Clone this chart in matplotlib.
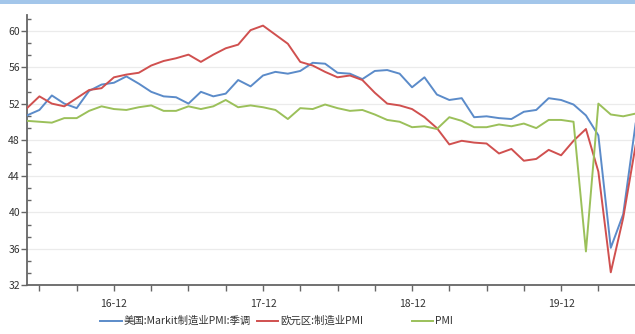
import matplotlib
matplotlib.use("Agg")
import matplotlib.pyplot as plt
from matplotlib.lines import Line2D
from matplotlib.patches import Rectangle
from matplotlib.ticker import FixedLocator, MultipleLocator
import numpy as np
import pandas as pd

plt.rcParams['font.family'] = ['Noto Sans CJK SC', 'DejaVu Sans']

# Monthly observations, 2016-05 .. 2020-06
months = pd.date_range("2016-05-01", periods=50, freq="MS")

us_markit_pmi = [50.7, 51.3, 52.9, 52.0, 51.5, 53.4, 54.1, 54.3, 55.0, 54.2,
                 53.3, 52.8, 52.7, 52.0, 53.3, 52.8, 53.1, 54.6, 53.9, 55.1,
                 55.5, 55.3, 55.6, 56.5, 56.4, 55.4, 55.3, 54.7, 55.6, 55.7,
                 55.3, 53.8, 54.9, 53.0, 52.4, 52.6, 50.5, 50.6, 50.4, 50.3,
                 51.1, 51.3, 52.6, 52.4, 51.9, 50.7, 48.5, 36.1, 39.8, 49.8]

euro_pmi = [51.5, 52.8, 52.0, 51.7, 52.6, 53.5, 53.7, 54.9, 55.2, 55.4,
            56.2, 56.7, 57.0, 57.4, 56.6, 57.4, 58.1, 58.5, 60.1, 60.6,
            59.6, 58.6, 56.6, 56.2, 55.5, 54.9, 55.1, 54.6, 53.2, 52.0,
            51.8, 51.4, 50.5, 49.3, 47.5, 47.9, 47.7, 47.6, 46.5, 47.0,
            45.7, 45.9, 46.9, 46.3, 47.9, 49.2, 44.5, 33.4, 39.4, 47.4]

china_pmi = [50.1, 50.0, 49.9, 50.4, 50.4, 51.2, 51.7, 51.4, 51.3, 51.6,
             51.8, 51.2, 51.2, 51.7, 51.4, 51.7, 52.4, 51.6, 51.8, 51.6,
             51.3, 50.3, 51.5, 51.4, 51.9, 51.5, 51.2, 51.3, 50.8, 50.2,
             50.0, 49.4, 49.5, 49.2, 50.5, 50.1, 49.4, 49.4, 49.7, 49.5,
             49.8, 49.3, 50.2, 50.2, 50.0, 35.7, 52.0, 50.8, 50.6, 50.9]

series_names = ["美国:Markit制造业PMI:季调", "欧元区:制造业PMI", "PMI"]
series_colors = ["#5B8BC9", "#D0504F", "#9BC05A"]

y_ticks = [32, 36, 40, 44, 48, 52, 56, 60]

W, H = 635, 334
fig = plt.figure(figsize=(W / 100, H / 100), dpi=100)
fig.patch.set_facecolor("white")

# thin band along the top edge
fig.add_artist(Rectangle((0, 1 - 4 / H), 1, 4 / H, transform=fig.transFigure,
                         facecolor="#A3C6EA", edgecolor="none"))

left, right_px, top_px, bottom_px = 27, 635, 15, 285
ax = fig.add_axes([left / W, 1 - bottom_px / H, (right_px - left) / W,
                   (bottom_px - top_px) / H])

x = np.arange(len(months))
for vals, c in zip([us_markit_pmi, euro_pmi, china_pmi], series_colors):
    ax.plot(x, vals, color=c, lw=1.4, solid_joinstyle="round", zorder=3)

ax.set_xlim(0, 48.95)
ax.set_ylim(32, 61.77)

ax.yaxis.set_major_locator(FixedLocator(y_ticks))
ax.yaxis.set_minor_locator(MultipleLocator(4 / 3))
ax.grid(axis="y", which="major", color="#EBEBEB", lw=0.9, zorder=0)

dec_idx = [i for i, m in enumerate(months) if m.month == 12]
qtr_idx = [i for i, m in enumerate(months) if m.month in (3, 6, 9, 12)]
ax.xaxis.set_major_locator(FixedLocator(dec_idx))
ax.set_xticklabels([m.strftime("%y-%m") for m in months[dec_idx]])
ax.xaxis.set_minor_locator(FixedLocator([i for i in qtr_idx if i not in dec_idx]))

for s in ["top", "right"]:
    ax.spines[s].set_visible(False)
for s in ["left", "bottom"]:
    ax.spines[s].set_color("#666666")
    ax.spines[s].set_linewidth(1.3)

ax.tick_params(axis="y", which="major", direction="out", length=4, width=1,
               color="#666666", labelsize=7.5, labelcolor="#333333", pad=1)
ax.tick_params(axis="y", which="minor", direction="in", length=3, width=1,
               color="#666666")
ax.tick_params(axis="x", which="both", direction="out", length=4, width=1,
               color="#666666", labelsize=7.5, labelcolor="#333333", pad=6)

# legend row beneath the axes
legend_y = 1 - 321 / H
handles_px = [(100, 122), (257, 278), (412, 433)]
for (x0, x1), name, c in zip(handles_px, series_names, series_colors):
    fig.add_artist(Line2D([x0 / W, x1 / W], [legend_y, legend_y],
                          transform=fig.transFigure, color=c, lw=1.4))
    fig.text((x1 + 2) / W, legend_y, name, fontsize=7.5, color="#333333",
             va="center", ha="left")

fig.savefig("out.png", dpi=100, facecolor="white")
